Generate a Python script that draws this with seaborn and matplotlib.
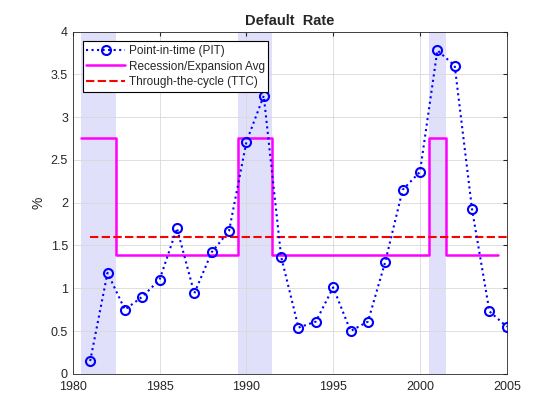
import numpy as np
import pandas as pd
import matplotlib
matplotlib.use("Agg")
import matplotlib.pyplot as plt
import seaborn as sns

years = list(range(1981, 2006))
pit = [0.15, 1.18, 0.75, 0.90, 1.10, 1.70, 0.94, 1.42, 1.67, 2.71, 3.25, 1.37,
       0.54, 0.61, 1.01, 0.50, 0.61, 1.31, 2.15, 2.36, 3.78, 3.60, 1.92, 0.73, 0.55]
recessions = [(1980.5, 1982.5), (1989.5, 1991.5), (2000.5, 2001.5)]
step_edges = [1980.5, 1982.5, 1989.5, 1991.5, 2000.5, 2001.5, 2004.5]
step_values = [2.75, 1.39, 2.75, 1.39, 2.75, 1.39]
ttc_value = 1.60
ttc_years = [1981, 2005]

sns.set_style("white")
plt.rcParams['font.family'] = ['Liberation Sans', 'DejaVu Sans']

fig = plt.figure(figsize=(5.6, 4.2), dpi=100)
ax = fig.add_axes([0.13, 0.11, 0.775, 0.815])

for a, b in recessions:
    ax.axvspan(a, b, color='#e0e0fb', lw=0, zorder=0)

df = pd.DataFrame({"year": years, "pit": pit})
sns.lineplot(data=df, x="year", y="pit", ax=ax, color='blue', linestyle=':', lw=1.5,
             marker='o', markersize=6.5, markerfacecolor='none', markeredgecolor='blue',
             markeredgewidth=1.5, label='Point-in-time (PIT)', zorder=3)

sx, sy = [], []
for i, v in enumerate(step_values):
    sx += [step_edges[i], step_edges[i + 1]]
    sy += [v, v]
sdf = pd.DataFrame({"x": sx, "y": sy})
sns.lineplot(data=sdf, x="x", y="y", ax=ax, color='magenta', lw=1.8, sort=False,
             estimator=None, label='Recession/Expansion Avg', zorder=2)

tdf = pd.DataFrame({"x": ttc_years, "y": [ttc_value] * len(ttc_years)})
sns.lineplot(data=tdf, x="x", y="y", ax=ax, color='red', lw=1.5, linestyle='--',
             label='Through-the-cycle (TTC)', zorder=2)
ax.get_lines()[-1].set_dashes([4, 1.6])

ax.set_xlim(1980, 2005)
ax.set_ylim(0, 4)
ax.set_xticks(range(1980, 2006, 5))
ax.set_yticks(np.arange(0, 4.01, 0.5))
ax.set_yticklabels(['0', '0.5', '1', '1.5', '2', '2.5', '3', '3.5', '4'])
ax.grid(True, color='#d9d9d9', lw=0.6)
ax.set_axisbelow(True)
ax.tick_params(direction='in', length=3, labelsize=9, colors='#262626', top=True, right=True,
               labeltop=False, labelright=False)
ax.tick_params(axis='x', pad=5)
for s in ax.spines.values():
    s.set_color('#262626')
    s.set_linewidth(0.6)
ax.set_xlabel('')
ax.set_ylabel('%', fontsize=10, color='#262626')
ax.set_title('Default  Rate', fontsize=10.5, fontweight='bold', pad=5)

leg = ax.legend(loc='upper left', bbox_to_anchor=(0.023, 0.971), fontsize=8.5, frameon=True,
                fancybox=False, edgecolor='black', framealpha=1, borderpad=0.3,
                labelspacing=0.3, handlelength=3.3, handletextpad=0.3, borderaxespad=0)
leg.get_frame().set_linewidth(0.8)

fig.savefig("out.png", dpi=100)
